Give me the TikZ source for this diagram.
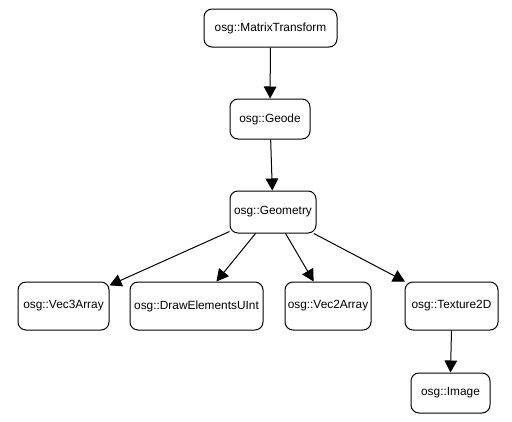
\documentclass[tikz,border=0pt]{standalone}
\usepackage{fontspec}
\setmainfont{Liberation Sans}
\usetikzlibrary{arrows.meta}

\tikzset{every picture/.style={line width=0.75pt}}
\tikzset{
  osgbox/.style={draw, rounded corners=6pt, inner sep=0.75pt, align=center,
    font=\fontsize{8.9}{10}\selectfont},
  child/.style={-{Triangle[length=9pt,width=9.5pt]}}
}

\begin{document}
\begin{tikzpicture}[x=0.75pt,y=0.75pt,yscale=-1,xscale=1]
  %set diagram size to the reference: 512 x 422
  \useasboundingbox (0,0) rectangle (512,422);

  % Text Node
  \node [osgbox, minimum width=99.75pt, minimum height=28.5pt] (mtrans) at (270.5,28) {osg::MatrixTransform};
  % Text Node
  \node [osgbox, minimum width=60pt, minimum height=30pt] (geode) at (270,119) {osg::Geode};
  % Text Node
  \node [osgbox, minimum width=64.5pt, minimum height=31.5pt] (geom) at (273,212) {osg::Geometry};
  % Text Node
  \node [osgbox, minimum width=68.25pt, minimum height=36pt] (vec3) at (63.5,306) {osg::Vec3Array};
  % Text Node
  \node [osgbox, minimum width=99.75pt, minimum height=36pt] (drawel) at (196.5,306) {osg::DrawElementsUInt};
  % Text Node
  \node [osgbox, minimum width=64.5pt, minimum height=36pt] (vec2) at (328,306) {osg::Vec2Array};
  % Text Node
  \node [osgbox, minimum width=69.75pt, minimum height=36pt] (tex2d) at (451.5,306) {osg::Texture2D};
  % Text Node
  \node [osgbox, minimum width=59.25pt, minimum height=30pt] (image) at (450.5,393) {osg::Image};

  %Straight Lines [id:mtrans-geode]
  \draw [child] (mtrans) -- (geode);
  %Straight Lines [id:geode-geom]
  \draw [child] (geode) -- (geom);
  %Straight Lines [id:geom-children]
  \draw [child] (geom) -- (vec3);
  \draw [child] (geom) -- (drawel);
  \draw [child] (geom) -- (vec2);
  \draw [child] (geom) -- (tex2d);
  %Straight Lines [id:tex2d-image]
  \draw [child] (tex2d.south) -- (image.north);
\end{tikzpicture}
\end{document}
